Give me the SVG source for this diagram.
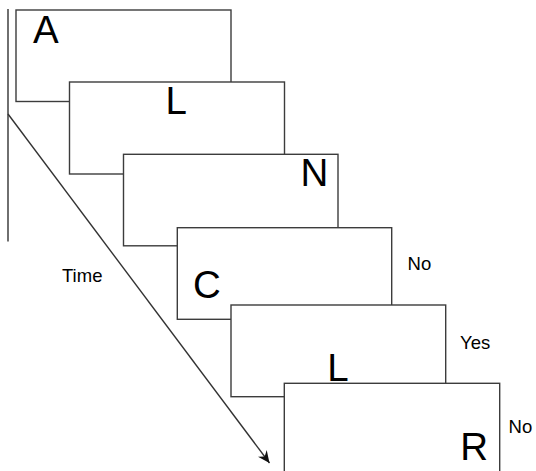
<svg xmlns="http://www.w3.org/2000/svg" width="536" height="471" viewBox="0 0 536 471">
  <style>
    .card { fill: #ffffff; stroke: #3c3c3c; stroke-width: 1.4; }
    .big { font-family: "Liberation Sans", Arial, sans-serif; font-size: 38.5px; fill: #000000; }
    .small { font-family: "Liberation Sans", Arial, sans-serif; font-size: 18.5px; fill: #000000; }
    .axis { fill: none; stroke: #333333; stroke-width: 1.4; }
  </style>
  <defs>
    <marker id="arrowhead" markerUnits="userSpaceOnUse" markerWidth="14" markerHeight="12" refX="12" refY="6" orient="auto">
      <path d="M0,0.5 L12,6 L0,11.5 L4,6 Z" fill="#111111"/>
    </marker>
  </defs>
  <rect width="536" height="471" fill="#ffffff"/>

  <!-- time axis -->
  <g id="connectors">
    <line class="axis" x1="8" y1="9" x2="8" y2="241.5"/>
    <line class="axis" x1="8" y1="114" x2="269.5" y2="463" marker-end="url(#arrowhead)"/>
  </g>
  <text class="small" x="62" y="281.5">Time</text>

  <!-- stimulus cards, each drawn over the previous one -->
  <g id="card-A">
    <rect class="card" x="16" y="10" width="215" height="91.5"/>
    <text class="big" x="33" y="42.7">A</text>
  </g>
  <g id="card-L1">
    <rect class="card" x="69.5" y="82" width="215" height="92"/>
    <text class="big" x="165.5" y="114.3">L</text>
  </g>
  <g id="card-N">
    <rect class="card" x="123.5" y="154.3" width="214.5" height="91.5"/>
    <text class="big" x="300.4" y="186">N</text>
  </g>
  <g id="card-C">
    <rect class="card" x="177.3" y="227.7" width="214.4" height="91.6"/>
    <text class="big" x="193" y="298.3">C</text>
  </g>
  <g id="card-L2">
    <rect class="card" x="231" y="305" width="214.7" height="91.7"/>
    <text class="big" x="327.2" y="381">L</text>
  </g>
  <g id="card-R">
    <rect class="card" x="284.3" y="383.3" width="215.4" height="100"/>
    <text class="big" x="460.3" y="460">R</text>
  </g>

  <!-- responses -->
  <text class="small" x="407.6" y="270">No</text>
  <text class="small" x="460" y="349.3">Yes</text>
  <text class="small" x="508.6" y="433.3">No</text>
</svg>
